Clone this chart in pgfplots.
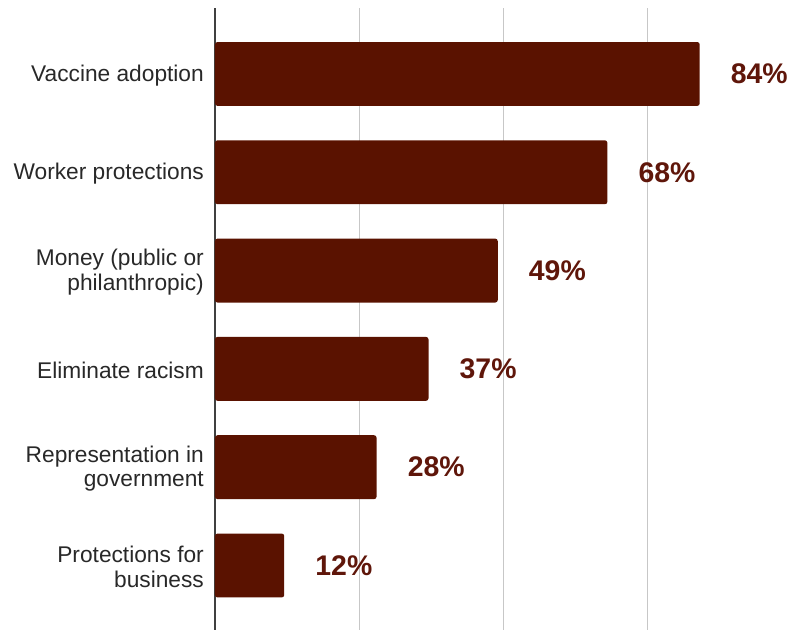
\documentclass[border=0pt]{standalone}
\usepackage{pgfplots}
\pgfplotsset{compat=1.18}
\usepackage{fontspec}
\setmainfont{Liberation Sans}
\definecolor{barc}{RGB}{90,18,0}
\definecolor{labc}{RGB}{95,22,10}
\definecolor{tickc}{RGB}{40,40,40}
\begin{document}
\begin{tikzpicture}
\useasboundingbox (-215bp,0) rectangle (573bp,630bp);
\begin{axis}[
  at={(0,0)}, anchor=south west,
  scale only axis,
  width=573bp, height=622bp,
  xbar,
  xmin=0, xmax=99.3,
  ymin=-0.656, ymax=5.671,
  bar width=0.65,
  axis line style={draw=none},
  xtick={25,50,75},
  xticklabels={},
  xmajorgrids,
  grid style={draw=black!22, line width=1.2bp},
  extra x ticks={0},
  extra x tick labels={},
  extra x tick style={grid style={draw=black!75, line width=1.3bp}},
  major tick length=0pt,
  /pgf/number format/assume math mode=true,
  ytick={0,1,2,3,4,5},
  yticklabels={{Protections for\\business},{Representation in\\government},{Eliminate racism},{Money (public or\\philanthropic)},{Worker protections},{Vaccine adoption}},
  yticklabel style={align=right, inner sep=0pt, xshift=-11bp, yshift=-1.5bp, font=\fontsize{22.8}{24.5}\selectfont, text=tickc},
  nodes near coords={\pgfmathprintnumber{\pgfplotspointmeta}\%},
  nodes near coords style={anchor=west, inner sep=0pt, xshift=31bp, font=\fontsize{28.5}{30}\selectfont\bfseries, text=labc},
  point meta=x,
  clip=false,
]
\addplot[fill=barc, draw=none, rounded corners=2.5bp] coordinates {
  (12,0) (28,1) (37,2) (49,3) (68,4) (84,5)
};
\end{axis}
\end{tikzpicture}
\end{document}
